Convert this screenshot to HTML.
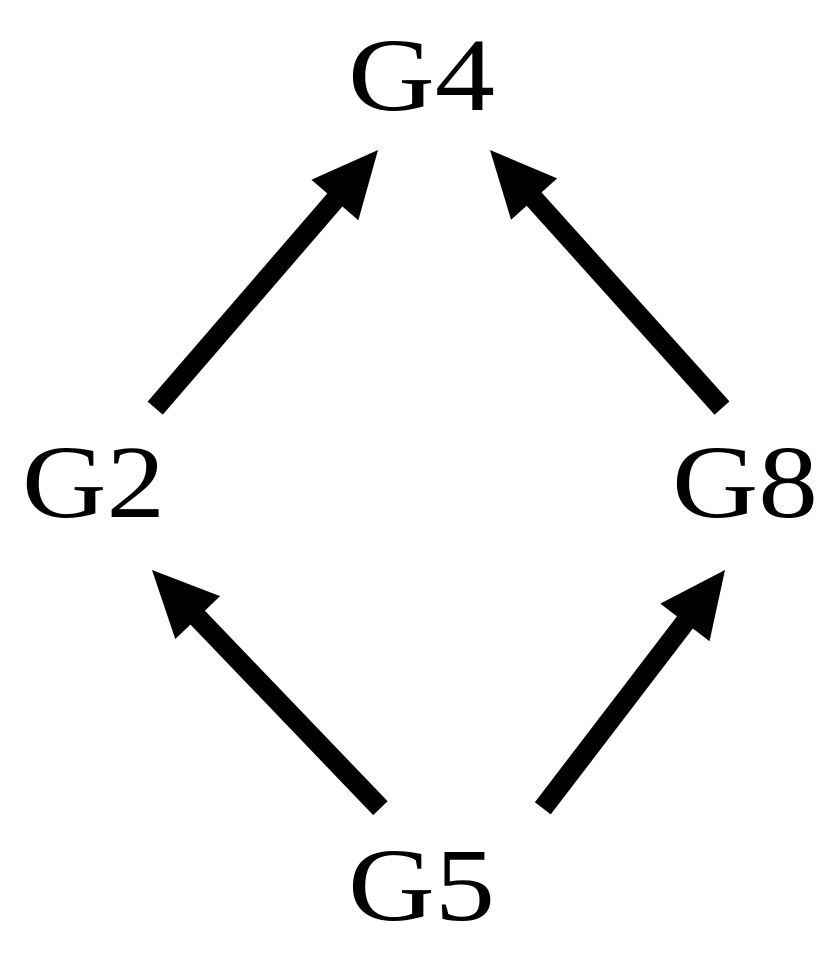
<!DOCTYPE html>
<html><head><style>html,body{margin:0;padding:0;background:#fff;}svg{display:block}</style></head>
<body>
<svg width="834" height="953" viewBox="0 0 834 953" xmlns="http://www.w3.org/2000/svg">
<g font-family="'Liberation Serif', serif" font-size="104" fill="#000">
<text x="348" y="110" textLength="147" lengthAdjust="spacingAndGlyphs">G4</text>
<text x="22" y="517" textLength="143" lengthAdjust="spacingAndGlyphs">G2</text>
<text x="672" y="517" textLength="146" lengthAdjust="spacingAndGlyphs">G8</text>
<text x="348" y="920" textLength="147" lengthAdjust="spacingAndGlyphs">G5</text>
</g>
<g stroke="#000" stroke-width="20" fill="#000">
<g transform="translate(378,150) rotate(-49.2)"><line x1="-341" y1="0" x2="-55" y2="0"/><polygon stroke="none" points="0,0 -66,-31 -66,31"/></g>
<g transform="translate(490,150) rotate(-131.96)"><line x1="-347" y1="0" x2="-55" y2="0"/><polygon stroke="none" points="0,0 -66,-31 -66,31"/></g>
<g transform="translate(152,570) rotate(-133.8)"><line x1="-330" y1="0" x2="-55" y2="0"/><polygon stroke="none" points="0,0 -66,-31 -66,31"/></g>
<g transform="translate(725,570) rotate(-52.6)"><line x1="-300" y1="0" x2="-55" y2="0"/><polygon stroke="none" points="0,0 -66,-31 -66,31"/></g>
</g>
</svg>
</body></html>
